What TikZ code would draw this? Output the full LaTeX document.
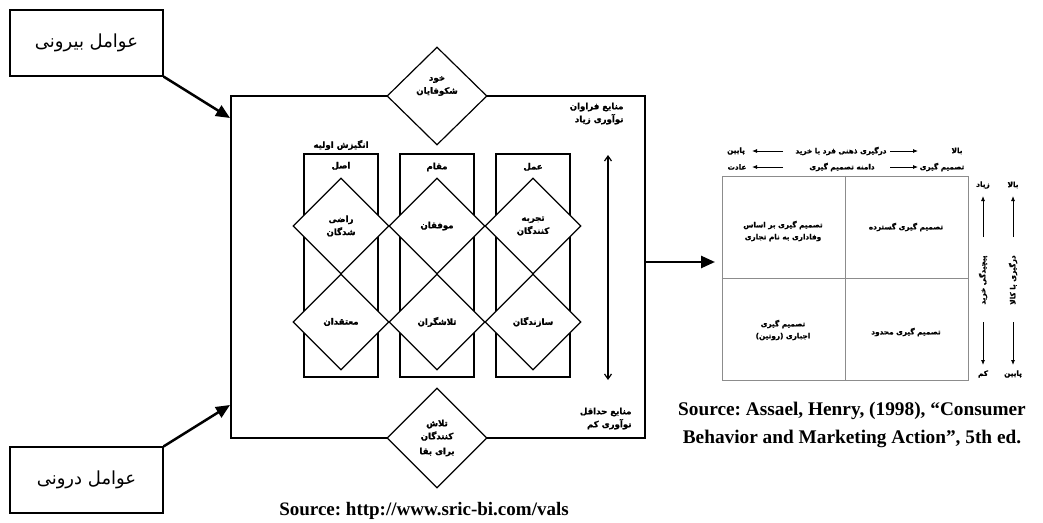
\documentclass[tikz,border=0pt]{standalone}
\usepackage{fontspec}
\setmainfont{Liberation Serif}
\newfontfamily\farsi[Script=Arabic,BoldFont={DejaVu Sans Bold},BoldFeatures={FakeBold=1.2}]{DejaVu Sans}
\TeXXeTstate=1
\frenchspacing
\usetikzlibrary{shapes.geometric,arrows.meta}
\newcommand{\fatext}[1]{\beginR #1\endR}

\begin{document}
\begin{tikzpicture}[x=1pt,y=-1pt,
    rahmenlinie/.style={draw, line width=1.2pt},
    raute/.style={rahmenlinie, fill=white, diamond, inner sep=0pt, minimum width=96pt, minimum height=96pt},
    spalte/.style={rahmenlinie, minimum width=74pt, minimum height=223pt},
    vals/.style={font=\farsi\bfseries\fontsize{8.6}{13}\selectfont, align=center},
    assael/.style={font=\farsi\bfseries\fontsize{7.3}{12}\selectfont, align=center},
    dick/.style={line width=2.5pt, -{Triangle[length=14pt,width=12pt]}},
    duenn/.style={line width=0.8pt, -{Latex[length=5pt,width=4pt]}},
    gitter/.style={draw=black!45, line width=1pt}]
    \useasboundingbox (0,0) rectangle (1043,522);

    % Faktoren links
    \node [rahmenlinie, minimum width=153pt, minimum height=66pt] (aussen) at (86.5,43) {\farsi\fontsize{18}{22}\selectfont\fatext{عوامل بیرونی}};
    \node [rahmenlinie, minimum width=153pt, minimum height=66pt] (innen) at (86.5,480) {\farsi\fontsize{18}{22}\selectfont\fatext{عوامل درونی}};

    % VALS Rahmen
    \node [rahmenlinie, minimum width=414pt, minimum height=342pt] (rahmen) at (438,267) {};
    \coordinate (einA) at (230,118);
    \coordinate (einB) at (230,405);
    \draw [dick] (aussen.south east) -- (einA);
    \draw [dick] (innen.north east) -- (einB);

    % Spalten
    \node [spalte] (asl) at (341,265.5) {};
    \node [spalte] (maqam) at (437,265.5) {};
    \node [spalte] (amal) at (533,265.5) {};
    \node [vals] (angizesh) at (341,145) {\fatext{انگیزش اولیه}};
    \node [vals] (aslt) at (341,166) {\fatext{اصل}};
    \node [vals] (maqamt) at (437,167) {\fatext{مقام}};
    \node [vals] (amalt) at (533,167) {\fatext{عمل}};

    % Rauten
    \node [raute] (razi) at (341,226) {};
    \node [raute] (movafaq) at (437,226) {};
    \node [raute] (tajrobe) at (533,226) {};
    \node [raute] (motaqed) at (341,322) {};
    \node [raute] (talash) at (437,322) {};
    \node [raute] (sazande) at (533,322) {};
    \node [vals] at (razi) {\fatext{راضی}\\ \fatext{شدگان}};
    \node [vals] at (movafaq) {\fatext{موفقان}};
    \node [vals] at (tajrobe) {\fatext{تجربه}\\ \fatext{کنندگان}};
    \node [vals] at (motaqed) {\fatext{معتقدان}};
    \node [vals] at (talash) {\fatext{تلاشگران}};
    \node [vals] at (sazande) {\fatext{سازندگان}};

    \node [raute, minimum width=100pt, minimum height=98pt] (khod) at (437,96) {};
    \node [vals] at (437,86) {\fatext{خود}\\ \fatext{شکوفایان}};
    \node [raute, minimum width=100pt, minimum height=100pt] (baqa) at (437,438) {};
    \node [vals] at (437,438) {\fatext{تلاش}\\ \fatext{کنندگان}\\[2pt] \fatext{برای بقا}};

    % Ressourcen
    \node [vals, align=right, anchor=east] (faravan) at (627,113.5) {\fatext{منابع فراوان}\\ \fatext{نوآوری زیاد}};
    \node [vals, align=right, anchor=east] (hadaqal) at (635,418.5) {\fatext{منابع حداقل}\\ \fatext{نوآوری کم}};
    \coordinate (oben) at (608,155);
    \coordinate (unten) at (608,380);
    \draw [line width=1.2pt, {Straight Barb[length=5pt,width=7pt]}-{Straight Barb[length=5pt,width=7pt]}] (oben) -- (unten);

    % Matrix
    \node [gitter, minimum width=246pt, minimum height=204pt] (matrix) at (845,278) {};
    \draw [gitter] (matrix.north) -- (matrix.south);
    \draw [gitter] (matrix.west) -- (matrix.east);
    \coordinate (ziel) at (715,262);
    \draw [dick] (rahmen.east |- ziel) -- (ziel);

    \node [assael] (vafadari) at (783,231) {\fatext{تصمیم گیری بر اساس}\\ \fatext{وفاداری به نام تجاری}};
    \node [assael] (gostarde) at (906,227) {\fatext{تصمیم گیری گسترده}};
    \node [assael] (ejbari) at (783,330) {\fatext{تصمیم گیری}\\ \fatext{اجباری (روتین)}};
    \node [assael] (mahdud) at (906,332) {\fatext{تصمیم گیری محدود}};

    % Kopfzeilen
    \node [assael] (bala) at (957,151) {\fatext{بالا}};
    \node [assael] (dargiri) at (841,151) {\fatext{درگیری ذهنی فرد با خرید}};
    \node [assael] (payin) at (736,151) {\fatext{پایین}};
    \node [assael] (tasmim) at (942,167) {\fatext{تصمیم گیری}};
    \node [assael] (damane) at (842,167) {\fatext{دامنه تصمیم گیری}};
    \node [assael] (adat) at (737,167) {\fatext{عادت}};
    \foreach \yy in {151,167}
    {
        \draw [duenn] (890,\yy) -- (918,\yy);
        \draw [duenn] (783,\yy) -- (752,\yy);
    }

    % rechte Achsen
    \node [assael] (ziad) at (983,185) {\fatext{زیاد}};
    \node [assael] (bala2) at (1013,185) {\fatext{بالا}};
    \node [assael, rotate=90] (pichidegi) at (983,280) {\fatext{پیچیدگی خرید}};
    \node [assael, rotate=90] (kala) at (1013,280) {\fatext{درگیری با کالا}};
    \node [assael] (kam) at (983,374) {\fatext{کم}};
    \node [assael] (payin2) at (1013,374) {\fatext{پایین}};
    \foreach \xx in {983,1013}
    {
        \draw [duenn] (\xx,237) -- (\xx,196);
        \draw [duenn] (\xx,322) -- (\xx,365);
    }

    % Quellen
    \node [font=\bfseries\fontsize{19}{22}\selectfont] (quelle1) at (424,511) {Source: http://www.sric-bi.com/vals};
    \node [font=\bfseries\fontsize{19.3}{28}\selectfont, align=center] (quelle2) at (852,425) {Source: Assael, Henry, (1998), ``Consumer\\ Behavior and Marketing Action'', 5th ed.};
\end{tikzpicture}
\end{document}
